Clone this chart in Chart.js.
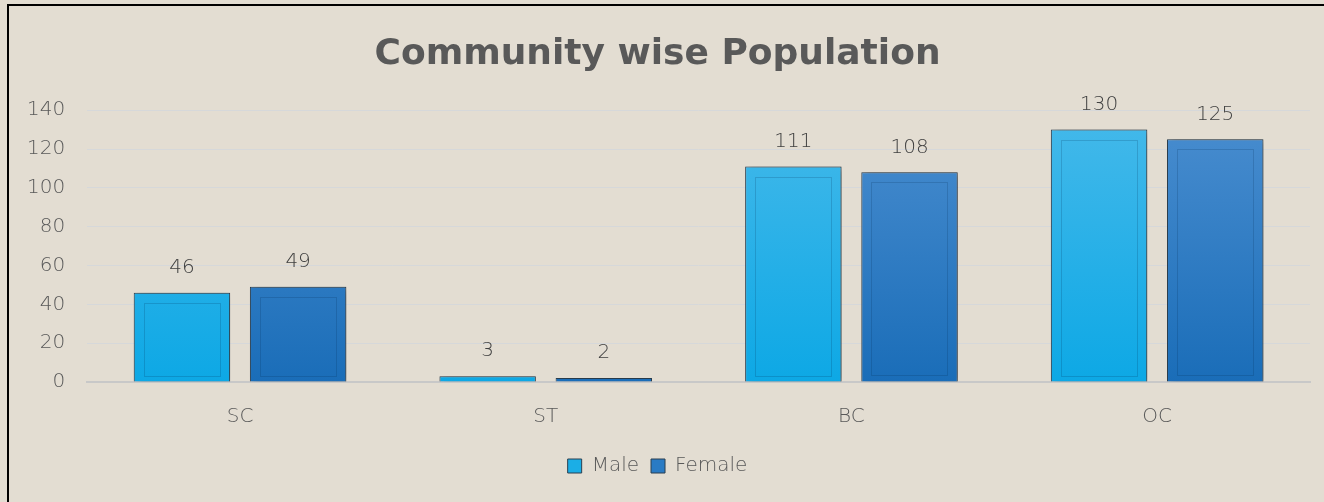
<!DOCTYPE html>
<html>
<head>
<meta charset="utf-8">
<script src="https://cdn.jsdelivr.net/npm/chart.js@4"></script>
<style>
  html, body { margin: 0; padding: 0; background: #E3DDD2; overflow: hidden; }
  canvas { display: block; }
</style>
</head>
<body>
<canvas id="chart" width="1324" height="502"></canvas>
<script>
// ========== Data ==========
const categories = ['SC', 'ST', 'BC', 'OC'];
const maleValues = [46, 3, 111, 130];
const femaleValues = [49, 2, 108, 125];
const yTicks = [0, 20, 40, 60, 80, 100, 120, 140];

const FONT = "'DejaVu Sans', sans-serif";
const LIGHT = 200;

// vertical gradient over the plot area
function gradient(topColor, bottomColor) {
  return (ctx) => {
    const area = ctx.chart.chartArea;
    if (!area) return bottomColor;
    const g = ctx.chart.ctx.createLinearGradient(0, area.top, 0, area.bottom);
    g.addColorStop(0, topColor);
    g.addColorStop(1, bottomColor);
    return g;
  };
}

// ========== Frame (left + top black edge) ==========
const frame = {
  id: 'frame',
  beforeDraw(chart) {
    const c = chart.ctx;
    c.save();
    c.fillStyle = '#E3DDD2';
    c.fillRect(0, 0, chart.width, chart.height);
    c.strokeStyle = '#000';
    c.lineWidth = 2;
    c.beginPath();
    c.moveTo(8, chart.height);
    c.lineTo(8, 5);
    c.lineTo(chart.width, 5);
    c.stroke();
    c.restore();
  }
};

// ========== Bar decoration (shadow + inner frame) ==========
const barDecor = {
  id: 'barDecor',
  beforeDatasetDraw(chart) {
    const c = chart.ctx;
    c.save();
    c.shadowColor = 'rgba(0,0,0,0.4)';
    c.shadowBlur = 8;
    c.shadowOffsetX = 3;
    c.shadowOffsetY = 1;
  },
  afterDatasetDraw(chart, args) {
    const c = chart.ctx;
    c.restore();
    const meta = args.meta;
    c.save();
    c.strokeStyle = 'rgba(0,40,80,0.18)';
    c.lineWidth = 1;
    meta.data.forEach(bar => {
      const h = bar.base - bar.y;
      if (h < 30) return;
      const left = bar.x - bar.width / 2 + 10;
      const w = bar.width - 20;
      c.strokeRect(Math.round(left) + 0.5, Math.round(bar.y + 10) + 0.5, Math.round(w), Math.round(h - 16));
    });
    c.restore();
  }
};

// ========== Value labels ==========
const valueLabels = {
  id: 'valueLabels',
  afterDatasetsDraw(chart) {
    const c = chart.ctx;
    c.save();
    c.font = LIGHT + ' 20px ' + FONT;
    c.fillStyle = '#404040';
    c.textAlign = 'center';
    c.textBaseline = 'middle';
    chart.data.datasets.forEach((ds, i) => {
      chart.getDatasetMeta(i).data.forEach((bar, j) => {
        c.fillText(ds.data[j], bar.x, bar.y - 25);
      });
    });
    c.restore();
  }
};

// ========== Chart ==========
new Chart(document.getElementById('chart'), {
  type: 'bar',
  data: {
    labels: categories,
    datasets: [
      {
        label: 'Male',
        data: maleValues,
        backgroundColor: gradient('#45B9EA', '#0DA8E5'),
        borderColor: '#2B3F50',
        borderWidth: 1,
        categoryPercentage: 0.76,
        barPercentage: 0.83
      },
      {
        label: 'Female',
        data: femaleValues,
        backgroundColor: gradient('#4A8ED0', '#1A6DB8'),
        borderColor: '#2B3F50',
        borderWidth: 1,
        categoryPercentage: 0.76,
        barPercentage: 0.83
      }
    ]
  },
  options: {
    responsive: false,
    animation: false,
    layout: { padding: { left: 5, right: 14, top: 33, bottom: 16 } },
    plugins: {
      title: {
        display: true,
        text: 'Community wise Population',
        color: '#595959',
        font: { family: FONT, size: 36, weight: 'bold' },
        padding: { top: 0, bottom: 34 }
      },
      legend: {
        position: 'bottom',
        labels: {
          color: '#595959',
          font: { family: FONT, size: 20, weight: LIGHT },
          boxWidth: 14,
          boxHeight: 14,
          padding: 12,
          generateLabels(chart) {
            const fills = ['#1BAEE6', '#2A7BC4'];
            return chart.data.datasets.map((ds, i) => ({
              text: ds.label,
              fillStyle: fills[i],
              strokeStyle: '#2B3F50',
              lineWidth: 1,
              datasetIndex: i,
              fontColor: '#595959'
            }));
          }
        }
      },
      tooltip: { enabled: false }
    },
    scales: {
      x: {
        grid: { display: false },
        border: { color: '#C8C8C8', width: 2 },
        ticks: { color: '#595959', font: { family: FONT, size: 20, weight: LIGHT }, padding: 15 }
      },
      y: {
        min: yTicks[0],
        max: yTicks[yTicks.length - 1],
        afterBuildTicks(axis) { axis.ticks = yTicks.map(v => ({ value: v })); },
        grid: { color: '#D6D8DA', lineWidth: 1, drawTicks: false },
        border: { display: false },
        ticks: { color: '#595959', font: { family: FONT, size: 20, weight: LIGHT }, padding: 22 }
      }
    }
  },
  plugins: [frame, barDecor, valueLabels]
});
</script>
</body>
</html>
